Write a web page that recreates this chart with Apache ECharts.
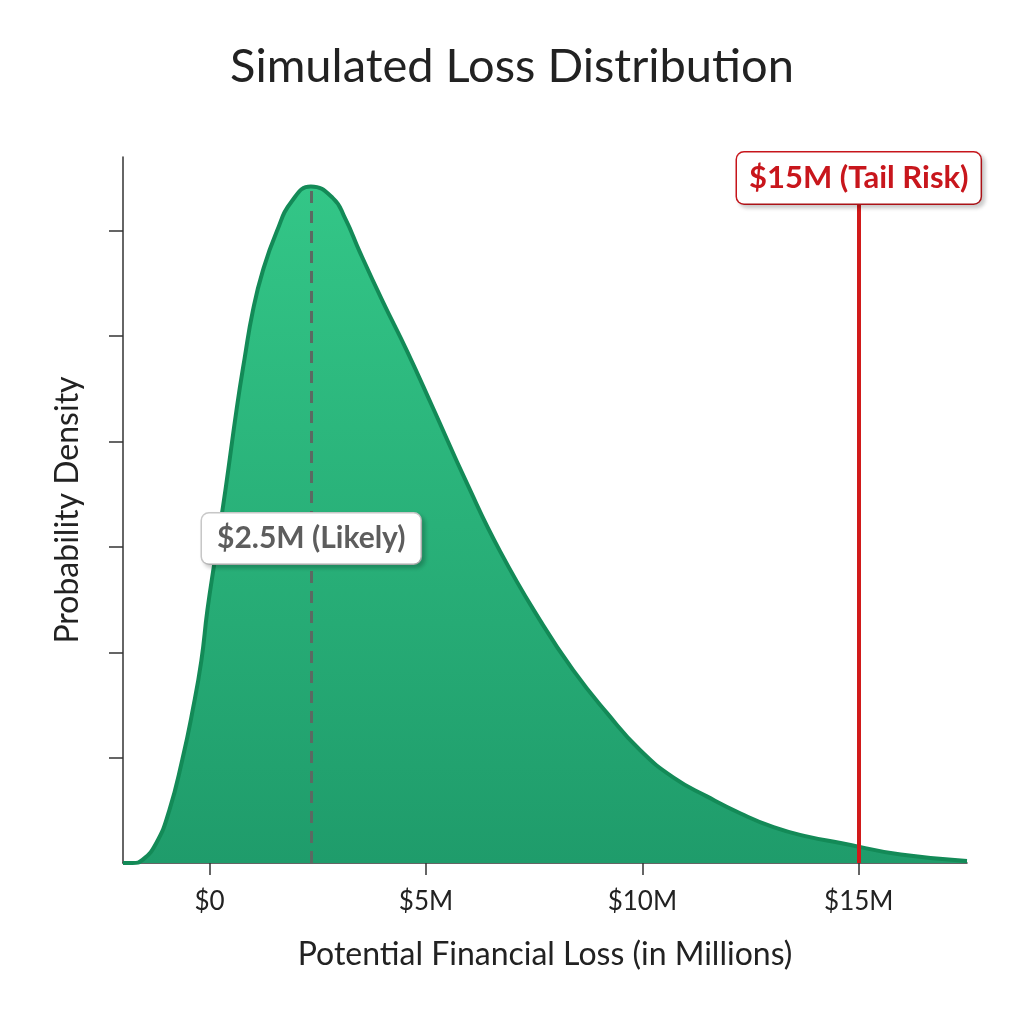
<!DOCTYPE html>
<html>
<head>
<meta charset="utf-8">
<script src="https://cdn.jsdelivr.net/npm/echarts@6/dist/echarts.min.js"></script>
<style>
  html, body { margin: 0; padding: 0; background: #fff; }
  #chart { width: 1024px; height: 1024px; }
</style>
</head>
<body>
<div id="chart"></div>
<script>
// values (loss in $M, density)
var lossX = [-2, -1.78, -1.55, -1.23, -0.93, -0.63, -0.39, -0.19, -0.05, 0.12, 0.37, 0.63, 0.81, 1, 1.23, 1.55, 1.9, 2.34, 2.85, 3.13, 3.47, 4, 4.56, 5.16, 5.95, 6.71, 7.64, 8.4, 9.19, 9.95, 10.72, 11.5, 12.27, 13.03, 13.82, 14.58, 15.97, 17.5];
var density = [0, 0, 0.03, 0.19, 0.5, 0.98, 1.45, 1.92, 2.4, 2.87, 3.55, 4.32, 4.79, 5.24, 5.62, 5.99, 6.28, 6.42, 6.31, 6.12, 5.8, 5.33, 4.86, 4.32, 3.6, 2.96, 2.3, 1.83, 1.42, 1.07, 0.81, 0.63, 0.47, 0.34, 0.25, 0.19, 0.08, 0.02];
var xTicks = [0, 5, 10, 15];
var yTicks = [1, 2, 3, 4, 5, 6];
var likelyX = 2.35;
var likelyPeak = 6.42;
var tailX = 15;

var chart = echarts.init(document.getElementById('chart'));

var curve = [];
for (var i = 0; i < lossX.length; i++) {
  curve.push([lossX[i], density[i]]);
}

var option = {
  backgroundColor: '#fff',
  textStyle: { fontFamily: 'Lato' },
  title: {
    text: 'Simulated Loss Distribution',
    left: 'center',
    top: 38,
    textStyle: { fontSize: 47, fontWeight: 'normal', color: '#222', fontFamily: 'Lato' }
  },
  grid: { left: 123, right: 57, top: 157, bottom: 161 },
  xAxis: {
    type: 'value',
    min: -2,
    max: 17.5,
    name: 'Potential Financial Loss (in Millions)',
    nameLocation: 'middle',
    nameGap: 76,
    nameTextStyle: { fontSize: 32, color: '#222' },
    axisLine: { onZero: false, lineStyle: { color: '#333', width: 1.5 } },
    axisTick: { show: true, customValues: xTicks, length: 12, lineStyle: { color: '#333', width: 1.5 } },
    axisLabel: {
      customValues: xTicks,
      margin: 26,
      fontSize: 26,
      color: '#222',
      formatter: function (v) { return v === 0 ? '$0' : '$' + v + 'M'; }
    },
    splitLine: { show: false }
  },
  yAxis: {
    type: 'value',
    min: 0,
    max: 6.7,
    interval: 1,
    name: 'Probability Density',
    nameLocation: 'middle',
    nameGap: 39,
    nameTextStyle: { fontSize: 32, color: '#222' },
    axisLine: { show: true, onZero: false, lineStyle: { color: '#333', width: 1.5 } },
    axisTick: { show: true, customValues: yTicks, length: 14, lineStyle: { color: '#333', width: 1.5 } },
    axisLabel: { show: false },
    splitLine: { show: false }
  },
  series: [{
    type: 'line',
    data: curve,
    smooth: 0.5,
    symbol: 'none',
    lineStyle: { color: '#138a57', width: 4 },
    areaStyle: {
      color: new echarts.graphic.LinearGradient(0, 0, 0, 1, [
        { offset: 0, color: '#33c687' },
        { offset: 1, color: '#1f9c6b' }
      ]),
      opacity: 1
    },
    markLine: {
      silent: true,
      symbol: 'none',
      z: 6,
      label: { show: false },
      data: [
        [
          { coord: [likelyX, 0], lineStyle: { color: '#5b6a62', width: 3, type: [12, 8] } },
          { coord: [likelyX, likelyPeak] }
        ],
        [
          { coord: [tailX, 0], lineStyle: { color: '#d11a1a', width: 4, type: 'solid' } },
          { coord: [tailX, 6.7] }
        ]
      ]
    },
    markPoint: {
      silent: true,
      z: 10,
      symbol: 'circle',
      symbolSize: 0,
      data: [
        {
          coord: [likelyX, 3.08],
          label: {
            show: true,
            position: 'inside',
            formatter: '$2.5M (Likely)',
            fontSize: 30,
            fontWeight: 'bold',
            color: '#5d5d5d',
            backgroundColor: '#fff',
            borderColor: '#c8c8c8',
            borderWidth: 1.5,
            borderRadius: 7,
            padding: [10, 15],
            shadowColor: 'rgba(0,0,0,0.18)',
            shadowOffsetX: 3,
            shadowOffsetY: 3,
            shadowBlur: 4
          }
        },
        {
          coord: [tailX, 6.5],
          label: {
            show: true,
            position: 'inside',
            formatter: '$15M (Tail Risk)',
            fontSize: 31,
            fontWeight: 'bold',
            color: '#c8161c',
            backgroundColor: '#fff',
            borderColor: '#c8161c',
            borderWidth: 1.5,
            borderRadius: 7,
            padding: [10, 12],
            shadowColor: 'rgba(0,0,0,0.18)',
            shadowOffsetX: 3,
            shadowOffsetY: 3,
            shadowBlur: 4
          }
        }
      ]
    }
  }]
};

chart.setOption(option);
</script>
</body>
</html>
